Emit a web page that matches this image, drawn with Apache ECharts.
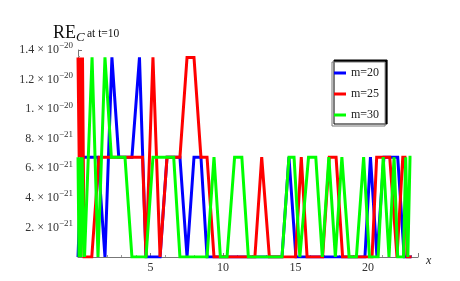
<!DOCTYPE html>
<html><head><meta charset="utf-8">
<script src="https://cdn.jsdelivr.net/npm/echarts@6/dist/echarts.min.js"></script>
<style>html,body{margin:0;padding:0;background:#fff}#c{width:460px;height:281px}</style>
</head><body><div id="c"></div>
<script>
// y values are in units of 1e-21 (P = 6.75e-21 plateau, H = 1.35e-20 peak)
var seriesNames = ['m=20', 'm=25', 'm=30'];
var xTicks = [5, 10, 15, 20];
var yTickLabels = ['2. \u00d7 10', '4. \u00d7 10', '6. \u00d7 10', '8. \u00d7 10', '1. \u00d7 10', '1.2 \u00d7 10', '1.4 \u00d7 10'];
var yTickExps = ['\u221221', '\u221221', '\u221221', '\u221221', '\u221220', '\u221220', '\u221220'];

var blueX = [0, 0.25, 1.38, 1.86, 2.34, 2.81, 3.72, 4.24, 4.69, 5.66, 6.14, 7.03, 7.52, 8.0, 8.48, 8.9, 14.07, 14.55, 15.03, 19.79, 20.17, 20.62, 21.1, 22.05, 22.5, 23.0];
var blueY = [0, 6.75, 6.75, 0, 13.5, 6.75, 6.75, 13.5, 0, 0, 6.75, 6.75, 0, 6.75, 6.75, 0, 0, 6.75, 0, 0, 6.75, 0, 6.75, 6.75, 0, 0];

var redX = [0, 0.08, 0.16, 0.24, 0.31, 0.42, 0.95, 1.45, 4.45, 4.69, 5.17, 5.66, 6.14, 7.03, 7.52, 8.0, 8.48, 8.9, 9.38, 12.2, 12.67, 13.2, 15.0, 15.4, 15.8, 16.87, 17.33, 17.8, 18.25, 20.28, 20.6, 21.5, 22.0, 22.4, 22.55, 22.7, 23.0];
var redY = [13.5, 6.75, 13.5, 6.75, 13.5, 0, 0, 6.75, 6.75, 0, 13.5, 0, 6.75, 6.75, 13.5, 13.5, 6.75, 6.75, 0, 0, 6.75, 0, 0, 6.75, 0, 0, 6.75, 6.75, 0, 0, 6.75, 6.75, 0, 6.75, 6.75, 0, 0];

var greenX = [0, 0.07, 0.14, 0.21, 0.28, 0.45, 0.97, 1.38, 1.86, 2.3, 3.24, 3.72, 4.69, 5.17, 6.6, 7.03, 8.9, 9.38, 9.82, 10.28, 10.8, 11.3, 11.75, 14.07, 14.55, 14.9, 15.3, 15.9, 16.4, 16.85, 17.3, 17.75, 18.2, 18.7, 19.2, 19.7, 20.1, 20.7, 21.05, 21.45, 21.8, 22.05, 22.45, 22.6, 22.75, 22.9, 23.0];
var greenY = [6.75, 0, 6.75, 0, 6.75, 0, 13.5, 0, 13.5, 6.75, 6.75, 0, 0, 6.75, 6.75, 0, 0, 6.75, 0, 0, 6.75, 6.75, 0, 0, 6.75, 6.75, 0, 6.75, 6.75, 0, 6.75, 0, 6.75, 0, 0, 6.75, 0, 0, 6.75, 0, 6.75, 0, 0, 6.75, 0, 6.75, 6.75];

function pairs(xs, ys) { return xs.map(function (x, i) { return [x, ys[i]]; }); }
var colors = ['#0000ff', '#ff0000', '#00ff00'];
var serif = 'Liberation Serif';

var chart = echarts.init(document.getElementById('c'), null, {renderer: 'canvas'});
chart.setOption({
  animation: false,
  graphic: [
    {type: 'text', left: 53, top: 24, style: {text: 'RE', font: '18px "Liberation Serif"', fill: '#111'}},
    {type: 'text', left: 76, top: 31, style: {text: 'C', font: 'italic 13px "Liberation Serif"', fill: '#111'}},
    {type: 'text', left: 87, top: 28, style: {text: 'at t=10', font: '11.5px "Liberation Serif"', fill: '#111'}}
  ],
  legend: {
    data: seriesNames,
    orient: 'vertical', left: 332, top: 62,
    itemWidth: 12, itemHeight: 3, itemGap: 9,
    padding: [5, 6, 5, 2],
    icon: 'rect',
    backgroundColor: '#fff', borderColor: '#777', borderWidth: 1,
    shadowColor: '#000', shadowBlur: 0, shadowOffsetX: 2, shadowOffsetY: -2,
    textStyle: {fontFamily: serif, fontSize: 12, color: '#222'}
  },
  grid: {left: 78, right: 42, top: 50, bottom: 24},
  xAxis: {
    type: 'value', min: 0, max: 23.45, interval: 5,
    axisLine: {show: true, onZero: false, lineStyle: {color: '#777', width: 1}},
    axisTick: {show: true, length: 4, inside: true, lineStyle: {color: '#777'}},
    minorTick: {show: true, splitNumber: 5, length: 2, lineStyle: {color: '#999'}},
    splitLine: {show: false},
    axisLabel: {fontFamily: serif, fontSize: 12, color: '#333', margin: 5, showMinLabel: false,
      formatter: function (v) { return xTicks.indexOf(v) >= 0 ? String(v) : ''; }},
    name: 'x', nameLocation: 'end', nameGap: 8,
    nameTextStyle: {fontFamily: serif, fontStyle: 'italic', fontSize: 12, color: '#222', verticalAlign: 'top', padding: [-2, 0, 0, 0]}
  },
  yAxis: {
    type: 'value', min: 0, max: 14, interval: 2,
    axisLine: {show: true, lineStyle: {color: '#777', width: 1}},
    axisTick: {show: true, length: 4, inside: true, lineStyle: {color: '#777'}},
    minorTick: {show: true, splitNumber: 5, length: 2, lineStyle: {color: '#999'}},
    splitLine: {show: false},
    axisLabel: {margin: 5,
      formatter: function (v) {
        var i = Math.round(v / 2);
        if (i === 0) return '';
        return '{b|' + yTickLabels[i - 1] + '}{s|' + yTickExps[i - 1] + '}';
      },
      rich: {b: {fontFamily: serif, fontSize: 12, color: '#333'},
             s: {fontFamily: serif, fontSize: 9, color: '#333', padding: [0, 0, 8, 0]}}}
  },
  series: seriesNames.map(function (n, i) {
    var d = [pairs(blueX, blueY), pairs(redX, redY), pairs(greenX, greenY)][i];
    return {name: n, type: 'line', data: d, showSymbol: false, symbol: 'none',
      lineStyle: {width: 3, color: colors[i], join: 'miter'}, itemStyle: {color: colors[i]}, z: 2 + i};
  })
});
</script></body></html>
